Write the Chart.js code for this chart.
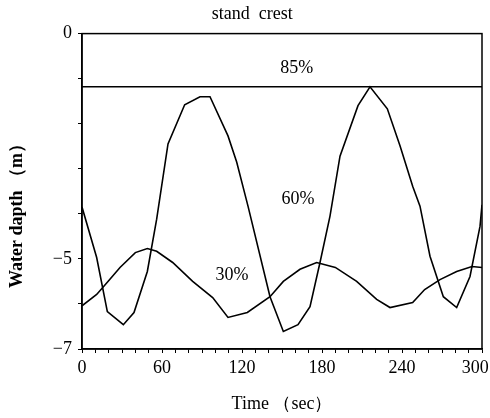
<!DOCTYPE html>
<html>
<head>
<meta charset="utf-8">
<script src="https://cdn.jsdelivr.net/npm/chart.js@4/dist/chart.umd.min.js"></script>
<style>
  html, body { margin: 0; padding: 0; background: #fff; }
  #wrap { width: 490px; height: 418px; }
</style>
</head>
<body>
<div id="wrap"><canvas id="chart"></canvas></div>
<script>
// water depth at the breakwater
const time85 = [0, 300];
const depth85 = [-1.18, -1.18];

const time60 = [0, 11, 19, 31, 39, 49, 56, 64.5, 77, 88.5, 96, 109.5, 116, 124.5, 141, 151, 162, 171, 178.5, 186,
  193.5, 207, 216, 229, 238.5, 248, 253.5, 261, 271, 281, 291, 298.5, 300];
const depth60 = [-3.85, -4.97, -6.17, -6.46, -6.19, -5.28, -4.12, -2.45, -1.58, -1.40, -1.40, -2.27, -2.85, -3.83, -5.84, -6.61, -6.46, -6.06, -5.08, -4.05,
  -2.72, -1.60, -1.18, -1.67, -2.49, -3.39, -3.83, -4.94, -5.84, -6.08, -5.39, -4.28, -3.8];

const time30 = [0, 11, 19, 28.5, 40, 49, 56, 68, 83, 98, 109.5, 124, 141, 151, 163.5, 176, 190, 206, 221, 231,
  248, 257, 268.5, 281, 292.5, 300];
const depth30 = [-6.04, -5.79, -5.52, -5.19, -4.86, -4.77, -4.83, -5.08, -5.50, -5.86, -6.30, -6.19, -5.84, -5.50, -5.23, -5.08, -5.19, -5.50, -5.90, -6.08,
  -5.97, -5.68, -5.46, -5.28, -5.17, -5.19];

// curve labels inside the plot (time, depth)
const curveNames = ["85%", "60%", "30%"];
const nameTime = [161, 162, 112.5];
const nameDepth = [-0.78, -3.67, -5.37];

const yLabelled = [0, -5, -7];

const serif = "'Liberation Serif', 'DejaVu Serif', serif";
const toPoints = (xs, ys) => xs.map((x, i) => ({ x: x, y: ys[i] }));

function lineSet(xs, ys) {
  return {
    data: toPoints(xs, ys),
    borderColor: "#000",
    borderWidth: 1.6,
    pointRadius: 0,
    tension: 0,
    fill: false
  };
}

// box around the plot + the percentage labels
const framePlugin = {
  id: "frame",
  afterDatasetsDraw(chart) {
    const { ctx, chartArea: a, scales } = chart;
    ctx.save();
    ctx.strokeStyle = "#000";
    ctx.lineWidth = 1.5;
    ctx.strokeRect(a.left, a.top, a.right - a.left, a.bottom - a.top);

    ctx.fillStyle = "#000";
    ctx.font = "18px " + serif;
    ctx.textAlign = "center";
    ctx.textBaseline = "middle";
    curveNames.forEach((t, i) => {
      ctx.fillText(t, scales.x.getPixelForValue(nameTime[i]), scales.y.getPixelForValue(nameDepth[i]));
    });
    ctx.restore();
  }
};

new Chart(document.getElementById("chart"), {
  type: "line",
  data: {
    datasets: [
      lineSet(time85, depth85),
      lineSet(time60, depth60),
      lineSet(time30, depth30)
    ]
  },
  options: {
    responsive: true,
    maintainAspectRatio: false,
    animation: false,
    layout: { padding: { left: 0, right: 8, top: 0, bottom: 0 } },
    plugins: {
      legend: { display: false },
      tooltip: { enabled: false },
      title: {
        display: true,
        // leading spaces nudge it right of the page centre, as printed
        text: "     stand  crest",
        color: "#000",
        font: { family: serif, size: 18, weight: "normal" },
        padding: { top: 3, bottom: 9 }
      }
    },
    scales: {
      x: {
        type: "linear",
        min: 0,
        max: 300,
        afterFit(s) { s.height = 69; s.paddingLeft = 0; s.paddingRight = 0; },
        ticks: {
          stepSize: 10,
          maxTicksLimit: 40,
          autoSkip: false,
          maxRotation: 0,
          padding: 4,
          color: "#000",
          font: { family: serif, size: 18 },
          // trailing spaces pull the last label in from the edge like in the print
          callback: v => v % 60 === 0 ? (v === 300 ? "300   " : String(v)) : ""
        },
        grid: { drawOnChartArea: false, drawTicks: true, tickLength: 4, color: "#000", lineWidth: 1 },
        border: { display: true, color: "#000", width: 1.5 },
        title: {
          display: true,
          text: "Time \uFF08sec\uFF09",
          color: "#000",
          font: { family: serif, size: 18 },
          padding: { top: 0, bottom: 3 }
        }
      },
      y: {
        min: -7,
        max: 0,
        afterFit(s) { s.width = 82; s.paddingTop = 0; s.paddingBottom = 0; },
        ticks: {
          stepSize: 1,
          autoSkip: false,
          padding: 6,
          color: "#000",
          font: { family: serif, size: 18 },
          callback: v => yLabelled.includes(v) ? (v < 0 ? "\u2212" + Math.abs(v) : String(v)) : ""
        },
        grid: { drawOnChartArea: false, drawTicks: true, tickLength: 4, color: "#000", lineWidth: 1 },
        border: { display: true, color: "#000", width: 1.5 },
        title: {
          display: true,
          // trailing spaces push the rotated title a little below the axis centre
          text: "Water dapth \uFF08m\uFF09\u00A0\u00A0\u00A0\u00A0\u00A0\u00A0\u00A0\u00A0\u00A0",
          color: "#000",
          font: { family: serif, size: 18, weight: "bold" },
          padding: { top: 7, bottom: 0 }
        }
      }
    }
  },
  plugins: [framePlugin]
});
</script>
</body>
</html>
